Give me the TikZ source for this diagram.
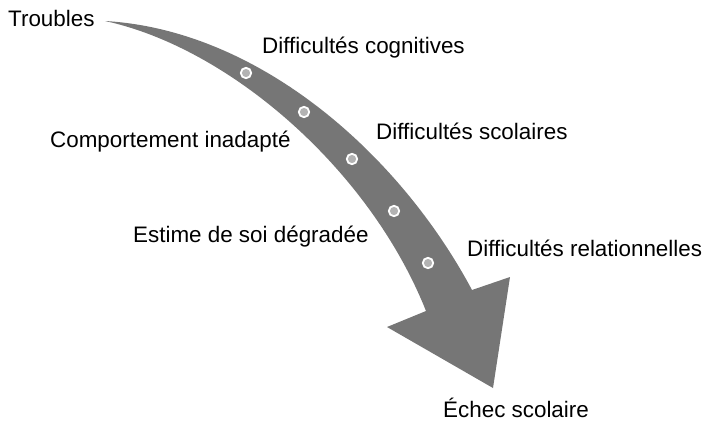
\documentclass[tikz,border=0pt]{standalone}
\usepackage{fontspec}
\setmainfont{Liberation Sans}
\definecolor{arrowgray}{HTML}{767676}
\definecolor{dotgray}{HTML}{B3B3B3}
\begin{document}
\begin{tikzpicture}[x=1pt,y=-1pt,
  lbl/.style={anchor=base west,inner sep=0pt,font=\fontsize{22.4}{26}\selectfont},
  stepdot/.style={circle,fill=dotgray,draw=white,line width=1.8pt,minimum size=10.4pt,inner sep=0pt}]
\useasboundingbox (0,0) rectangle (704,421);
\fill[arrowgray] (105,21) .. controls (260,30) and (400,155) .. (472,290)
  -- (510,277) -- (493,388) -- (387,327) -- (426,311)
  .. controls (370,170) and (230,48) .. (105,21) -- cycle;
\node[stepdot] (d1) at (246,73) {};
\node[stepdot] (d2) at (304,112) {};
\node[stepdot] (d3) at (352,159) {};
\node[stepdot] (d4) at (394,211) {};
\node[stepdot] (d5) at (428,263) {};
\node[lbl] (t0) at (8,26) {Troubles};
\node[lbl] (t1) at (262,53) {Difficultés cognitives};
\node[lbl] (t2) at (50,147) {Comportement inadapté};
\node[lbl] (t3) at (376,139) {Difficultés scolaires};
\node[lbl] (t4) at (133,242) {Estime de soi dégradée};
\node[lbl] (t5) at (467,256) {Difficultés relationnelles};
\node[lbl] (t6) at (443,417) {Échec scolaire};
\end{tikzpicture}
\end{document}
